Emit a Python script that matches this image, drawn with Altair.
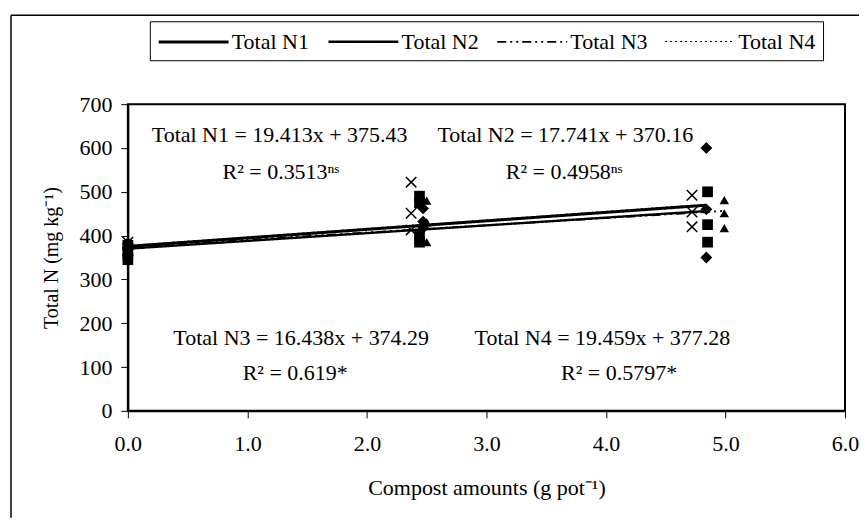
import altair as alt
import pandas as pd

# ---- data ----
series = ["Total N1", "Total N2", "Total N3", "Total N4"]
slopes = [19.413, 17.741, 16.438, 19.459]
intercepts = [375.43, 370.16, 374.29, 377.28]

n1_x = [0, 0, 0, 2.47, 2.47, 2.47, 4.84, 4.84, 4.84]
n1_y = [355, 368, 382, 462, 432, 418, 600, 460, 350]
n2_x = [0, 0, 0, 2.44, 2.44, 2.44, 2.44, 4.85, 4.85, 4.85]
n2_y = [345, 362, 378, 490, 475, 400, 385, 500, 425, 385]
n3_x = [0, 0, 0, 2.50, 2.50, 2.50, 4.99, 4.99, 4.99]
n3_y = [350, 372, 388, 480, 430, 385, 481, 451, 417]
n4_x = [0, 0, 0, 2.37, 2.37, 2.37, 4.72, 4.72, 4.72]
n4_y = [358, 370, 385, 522, 451, 413, 492, 454, 420]

eq_text = ["Total N1 = 19.413x + 375.43", "Total N2 = 17.741x + 370.16",
           "Total N3 = 16.438x + 374.29", "Total N4 = 19.459x + 377.28"]
eq_x = [1.27, 3.66, 1.45, 3.97]
eq_y = [629, 629, 166, 166]
r2_text = ["R² = 0.3513ⁿˢ", "R² = 0.4958ⁿˢ", "R² = 0.619*", "R² = 0.5797*"]
r2_x = [1.28, 3.65, 1.40, 4.11]
r2_y = [545, 545, 87, 87]

line_widths = [3.0, 1.1, 1.5, 2.2]
line_dashes = [[1, 0], [1, 0], [9, 4, 2, 4, 2, 4], [2, 3]]

x_ticks = [0, 1, 2, 3, 4, 5, 6]
y_ticks = [0, 100, 200, 300, 400, 500, 600, 700]

FONT = "Liberation Serif"
FS = 22
W, H = 718, 307

# ---- tables ----
xs = [n1_x, n2_x, n3_x, n4_x]
ys = [n1_y, n2_y, n3_y, n4_y]
pts = pd.DataFrame([
    {"series": s, "x": xv, "y": yv}
    for s, xl, yl in zip(series, xs, ys) for xv, yv in zip(xl, yl)
])
lines = pd.DataFrame([
    {"series": s, "x": xv, "y": b + m * xv}
    for s, m, b, xl in zip(series, slopes, intercepts, xs)
    for xv in (0, max(xl))
])
eqs = pd.DataFrame({"x": eq_x, "y": eq_y, "t": eq_text})
r2s = pd.DataFrame({"x": r2_x, "y": r2_y, "t": r2_text})

xscale = alt.Scale(domain=[0, 6], nice=False)
yscale = alt.Scale(domain=[0, 700], nice=False)

xaxis = alt.Axis(values=x_ticks, format=".1f", title="Compost amounts (g pot⁻¹)",
                 grid=False, tickSize=7, labelPadding=16, titlePadding=23,
                 domainColor="black", domainWidth=2, tickColor="black",
                 labelFont=FONT, labelFontSize=FS, labelColor="black",
                 titleFont=FONT, titleFontSize=FS, titleFontWeight="normal",
                 titleColor="black", labelFlush=False)
yaxis = alt.Axis(values=y_ticks, title="Total N (mg kg⁻¹)",
                 grid=False, tickSize=7, labelPadding=9, titlePadding=17,
                 domainColor="black", domainWidth=2, tickColor="black",
                 labelFont=FONT, labelFontSize=FS, labelColor="black",
                 titleFont=FONT, titleFontSize=20, titleFontWeight="normal",
                 titleColor="black")

X = alt.X("x:Q", scale=xscale, axis=xaxis)
Y = alt.Y("y:Q", scale=yscale, axis=yaxis)


def make_legend():
    return alt.Legend(
        title=None, orient="none", legendX=22, legendY=-83,
        direction="horizontal", columns=4,
        symbolType="M-1,0L5,0", symbolSize=544, symbolStrokeColor="black",
        labelFont=FONT, labelFontSize=FS, labelColor="black",
        labelOffset=48, columnPadding=14, padding=7,
        strokeColor="black", fillColor="white",
    )


line_layer = alt.Chart(lines).mark_line(color="black").encode(
    x=X, y=Y,
    strokeDash=alt.StrokeDash("series:N", scale=alt.Scale(
        domain=series, range=line_dashes), legend=make_legend()),
    strokeWidth=alt.StrokeWidth("series:N", scale=alt.Scale(
        domain=series, range=line_widths), legend=make_legend()),
    detail="series:N",
)

filled = alt.Chart(pts).transform_filter(
    alt.datum.series != "Total N4"
).mark_point(filled=True, opacity=1, color="black").encode(
    x="x:Q", y="y:Q",
    shape=alt.Shape("series:N", scale=alt.Scale(
        domain=series[:3], range=["diamond", "square", "triangle-up"]), legend=None),
    size=alt.Size("series:N", scale=alt.Scale(
        domain=series[:3], range=[140, 90, 130]), legend=None),
)

crosses = alt.Chart(pts).transform_filter(
    alt.datum.series == "Total N4"
).mark_point(shape="M-1,-1L1,1M1,-1L-1,1", filled=False, size=110,
             strokeWidth=1.5, color="black", opacity=1).encode(x="x:Q", y="y:Q")

eq_layer = alt.Chart(eqs).mark_text(font=FONT, fontSize=FS, color="black").encode(
    x="x:Q", y="y:Q", text="t:N")
r2_layer = alt.Chart(r2s).mark_text(font=FONT, fontSize=FS, color="black").encode(
    x="x:Q", y="y:Q", text="t:N")

frame_df = pd.DataFrame({"k": [0]})
frame_top = alt.Chart(frame_df).mark_rule(color="black", strokeWidth=1.5).encode(
    x=alt.value(-117), x2=alt.value(732), y=alt.value(-89))
frame_left = alt.Chart(frame_df).mark_rule(color="black", strokeWidth=1.5).encode(
    x=alt.value(-117), y=alt.value(-89), y2=alt.value(414))

chart = alt.layer(
    frame_top, frame_left, line_layer, filled, crosses, eq_layer, r2_layer
).properties(
    width=W, height=H,
    autosize=alt.AutoSizeParams(type="pad"),
    padding={"left": 2, "top": 6, "right": 0, "bottom": 0},
    background="white",
).configure_view(stroke="black", strokeWidth=2)

chart.save("out.html", embed_options={"renderer": "svg", "actions": False})
